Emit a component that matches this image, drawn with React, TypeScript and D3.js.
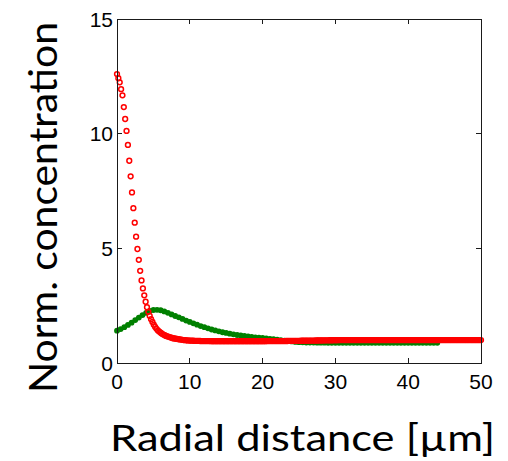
import React from "react";
import * as d3 from "d3";

// ---- data ----
const xTicks = [0, 10, 20, 30, 40, 50];
const yTicks = [0, 5, 10, 15];
const xLabel = "Radial distance [µm]";
const yLabel = "Norm. concentration";

// red series: radial grid step 50/267
const redStep = 50 / 267;
const redY = [
  12.6, 12.42, 12.24, 11.94, 11.67, 11.16, 10.64, 10.12, 9.51, 8.82,
  8.14, 7.44, 6.75, 6.12, 5.51, 4.97, 4.5, 4.02, 3.6, 3.25,
  2.95, 2.67, 2.43, 2.23, 2.05, 1.91, 1.79, 1.67, 1.57, 1.49,
  1.42, 1.37, 1.32, 1.28, 1.24, 1.21, 1.18, 1.16, 1.14, 1.12,
  1.1, 1.08, 1.07, 1.06, 1.05, 1.04, 1.03, 1.02, 1.01, 1.0,
  0.995, 0.99, 0.985, 0.98, 0.977, 0.974, 0.971, 0.968, 0.966, 0.964,
  0.962, 0.96, 0.958, 0.957, 0.956, 0.955, 0.955, 0.954, 0.954, 0.953,
  0.953, 0.953, 0.953, 0.953, 0.953, 0.953, 0.953, 0.953, 0.953, 0.953,
  0.952, 0.952, 0.952, 0.952, 0.952, 0.952, 0.952, 0.952, 0.952, 0.952,
  0.952, 0.952, 0.952, 0.952, 0.952, 0.952, 0.952, 0.952, 0.952, 0.952,
  0.953, 0.953, 0.953, 0.953, 0.953, 0.953, 0.953, 0.953, 0.953, 0.953,
  0.954, 0.954, 0.954, 0.954, 0.954, 0.954, 0.954, 0.954, 0.954, 0.954,
  0.955, 0.956, 0.957, 0.958, 0.959, 0.96, 0.961, 0.962, 0.963, 0.964,
  0.965, 0.966, 0.967, 0.968, 0.969, 0.97, 0.971, 0.972, 0.973, 0.974,
  0.975, 0.976, 0.977, 0.978, 0.979, 0.98, 0.981, 0.982, 0.983, 0.984,
  0.985, 0.986, 0.987, 0.988, 0.989, 0.99, 0.991, 0.992, 0.993, 0.994,
  0.995, 0.996, 0.997, 0.998, 0.999, 1.0, 1.0, 1.0, 1.0, 1.0,
  1.0, 1.0, 1.0, 1.0, 1.0, 1.0, 1.0, 1.0, 1.0, 1.0,
  1.0, 1.0, 1.0, 1.0, 1.0, 1.0, 1.0, 1.0, 1.0, 1.0,
  1.0, 1.0, 1.0, 1.0, 1.0, 1.0, 1.0, 1.0, 1.0, 1.0,
  1.0, 1.0, 1.0, 1.0, 1.0, 1.0, 1.0, 1.0, 1.0, 1.0,
  1.0, 1.0, 1.0, 1.0, 1.0, 1.0, 1.0, 1.0, 1.0, 1.0,
  1.0, 1.0, 1.0, 1.0, 1.0, 1.0, 1.0, 1.0, 1.0, 1.0,
  1.0, 1.0, 1.0, 1.0, 1.0, 1.0, 1.0, 1.0, 1.0, 1.0,
  1.0, 1.0, 1.0, 1.0, 1.0, 1.0, 1.0, 1.0, 1.0, 1.0,
  1.0, 1.0, 1.0, 1.0, 1.0, 1.0, 1.0, 1.0, 1.0, 1.0,
  1.0, 1.0, 1.0, 1.0, 1.0, 1.0, 1.0, 1.0,
];

// green series: step 0.5
const greenStep = 0.5;
const greenY = [
  1.41, 1.48, 1.56, 1.66, 1.76, 1.87, 1.98, 2.09, 2.19, 2.27,
  2.31, 2.32, 2.3, 2.25, 2.19, 2.12, 2.05, 1.99, 1.92, 1.85,
  1.79, 1.73, 1.67, 1.61, 1.56, 1.51, 1.46, 1.42, 1.38, 1.34,
  1.31, 1.28, 1.25, 1.22, 1.2, 1.18, 1.16, 1.14, 1.12, 1.1,
  1.09, 1.07, 1.05, 1.04, 1.02, 1.0, 0.98, 0.96, 0.94, 0.92,
  0.91, 0.9, 0.89, 0.89, 0.89, 0.885, 0.885, 0.885, 0.88, 0.88,
  0.88, 0.88, 0.88, 0.88, 0.88, 0.88, 0.88, 0.88, 0.88, 0.88,
  0.88, 0.88, 0.88, 0.88, 0.88, 0.88, 0.88, 0.88, 0.88, 0.88,
  0.88, 0.88, 0.88, 0.88, 0.88, 0.88, 0.88, 0.88, 0.88,
];

const W = 508;
const H = 461;
const M = { left: 117, right: 481, top: 19, bottom: 363 };

export default function App() {
  const x = d3.scaleLinear().domain([0, 50]).range([M.left, M.right]);
  const y = d3.scaleLinear().domain([0, 15]).range([M.bottom, M.top]);
  const tickLen = 5;
  const axisColor = "#1a1a1a";
  const tickFont = "'Liberation Sans', Arial, sans-serif";
  const labelFont = "Lato, 'Open Sans', sans-serif";

  return (
    <svg
      width={W}
      height={H}
      style={{ position: "absolute", left: 0, top: 0, background: "#fff" }}
    >
      <rect x={0} y={0} width={W} height={H} fill="#fff" />
      {/* green markers */}
      <g fill="#008000">
        {greenY.map((v, i) => (
          <circle key={"g" + i} cx={x(i * greenStep)} cy={y(v)} r={2.9} />
        ))}
      </g>
      {/* red circles */}
      <g fill="none" stroke="#ff0000" strokeWidth={1.5}>
        {redY.map((v, i) => (
          <circle key={"r" + i} cx={x(i * redStep)} cy={y(v)} r={2.4} />
        ))}
      </g>
      {/* box */}
      <rect
        x={M.left}
        y={M.top}
        width={M.right - M.left}
        height={M.bottom - M.top}
        fill="none"
        stroke={axisColor}
        strokeWidth={1}
        shapeRendering="crispEdges"
      />
      {/* ticks */}
      <g stroke={axisColor} strokeWidth={1} shapeRendering="crispEdges">
        {xTicks.map((t) => (
          <g key={"xt" + t}>
            <line x1={x(t)} x2={x(t)} y1={M.bottom} y2={M.bottom - tickLen} />
            <line x1={x(t)} x2={x(t)} y1={M.top} y2={M.top + tickLen} />
          </g>
        ))}
        {yTicks.map((t) => (
          <g key={"yt" + t}>
            <line x1={M.left} x2={M.left + tickLen} y1={y(t)} y2={y(t)} />
            <line x1={M.right} x2={M.right - tickLen} y1={y(t)} y2={y(t)} />
          </g>
        ))}
      </g>
      {/* tick labels */}
      <g fontFamily={tickFont} fontSize={21} fill="#000">
        {xTicks.map((t) => (
          <text key={"xl" + t} x={x(t)} y={389} textAnchor="middle">
            {t}
          </text>
        ))}
        {yTicks.map((t) => (
          <text key={"yl" + t} x={113} y={y(t) + 7.5} textAnchor="end">
            {t}
          </text>
        ))}
      </g>
      {/* axis labels */}
      <text
        x={110}
        y={451}
        fontFamily={labelFont}
        fontSize={37}
        textLength={385}
        lengthAdjust="spacingAndGlyphs"
        fill="#000"
      >
        {xLabel}
      </text>
      <text
        transform="translate(57,207.5) rotate(-90)"
        textAnchor="middle"
        fontFamily={labelFont}
        fontSize={38}
        textLength={371}
        lengthAdjust="spacingAndGlyphs"
        fill="#000"
      >
        {yLabel}
      </text>
    </svg>
  );
}
